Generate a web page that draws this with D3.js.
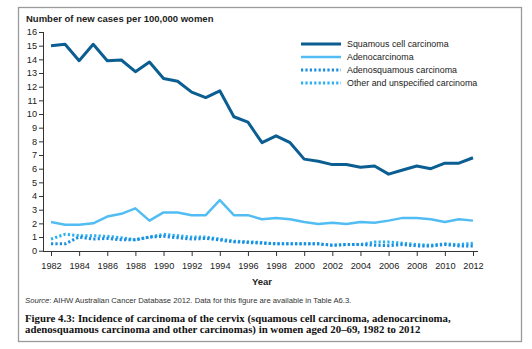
<!DOCTYPE html>
<html><head><meta charset="utf-8">
<script src="https://cdn.jsdelivr.net/npm/d3@7"></script>
<style>body{margin:0;background:#fff}svg{display:block}</style>
</head><body>
<script>
const years = d3.range(1982, 2013);
const squamous = [15.0,15.1,13.9,15.1,13.9,13.95,13.1,13.8,12.6,12.4,11.6,11.2,11.7,9.8,9.4,7.9,8.4,7.9,6.7,6.55,6.3,6.3,6.1,6.2,5.6,5.9,6.2,6.0,6.4,6.4,6.8];
const adeno = [2.1,1.9,1.9,2.0,2.5,2.7,3.1,2.2,2.8,2.8,2.6,2.6,3.7,2.6,2.6,2.3,2.4,2.3,2.1,1.95,2.05,1.95,2.1,2.05,2.2,2.4,2.4,2.3,2.1,2.3,2.2];
const adenosquamous = [0.5,0.5,1.0,0.85,0.9,0.8,0.8,1.0,1.05,0.95,0.85,0.9,0.78,0.65,0.6,0.55,0.5,0.5,0.5,0.5,0.4,0.45,0.45,0.4,0.37,0.45,0.35,0.35,0.45,0.35,0.35];
const other = [0.85,1.2,1.1,1.1,1.05,0.95,0.8,1.0,1.2,1.1,1.0,1.0,0.85,0.7,0.65,0.6,0.5,0.5,0.5,0.5,0.4,0.45,0.45,0.63,0.63,0.55,0.45,0.4,0.5,0.45,0.55];
const seriesNames = ["Squamous cell carcinoma","Adenocarcinoma","Adenosquamous carcinoma","Other and unspecified carcinoma"];
const yTicks = d3.range(0, 17);
const xTicks = d3.range(1982, 2013, 2);

const series = [
  {name: seriesNames[0], values: squamous, color: "#0b5e92", width: 3, dash: null},
  {name: seriesNames[1], values: adeno, color: "#52bdf3", width: 2.5, dash: null},
  {name: seriesNames[2], values: adenosquamous, color: "#1a8ee0", width: 3, dash: "2.2,2.2"},
  {name: seriesNames[3], values: other, color: "#2ab0f2", width: 3, dash: "2.2,2.2"}
];

const W = 532, H = 349;
const svg = d3.select("body").append("svg").attr("width", W).attr("height", H);
svg.append("rect").attr("x", 18.5).attr("y", 7.5).attr("width", 503).attr("height", 334)
  .attr("fill", "#fff").attr("stroke", "#9a9a9a").attr("stroke-width", 1.3);

const x = d3.scaleLinear().domain([1982, 2012]).range([51, 473]);
const y = d3.scaleLinear().domain([0, 16]).range([250.7, 32]);
const font = "Liberation Sans, Arial, sans-serif";

const yAxis = svg.append("g").attr("transform", "translate(43,0)")
  .call(d3.axisLeft(y).tickValues(yTicks).tickSize(4).tickPadding(2).tickSizeOuter(0));
const xAxis = svg.append("g").attr("transform", "translate(0,251)")
  .call(d3.axisBottom(x).tickValues(xTicks).tickFormat(d3.format("d")).tickSize(5).tickPadding(6).tickSizeOuter(0));
[yAxis, xAxis].forEach(g => {
  g.selectAll("path, line").attr("stroke", "#333").attr("stroke-width", 1);
  g.selectAll("text").attr("font-family", font).attr("font-size", 9.2).attr("fill", "#222");
});
xAxis.select(".domain").attr("d", `M43,0.5H${x(2012)+5}`);
yAxis.select(".domain").attr("d", `M0.5,${y(16)}V${y(0)+0.5}`);

const line = d3.line().x((d, i) => x(years[i])).y(d => y(d)).curve(d3.curveLinear);
series.slice().reverse().forEach(s => {
  svg.append("path").attr("d", line(s.values)).attr("fill", "none")
    .attr("stroke", s.color).attr("stroke-width", s.width)
    .attr("stroke-dasharray", s.dash).attr("stroke-linejoin", "round");
});

// legend
const lg = svg.append("g").attr("transform", "translate(301,44)");
series.forEach((s, i) => {
  const gy = i * 13;
  lg.append("line").attr("x1", 0).attr("x2", 40).attr("y1", gy).attr("y2", gy)
    .attr("stroke", s.color).attr("stroke-width", s.width).attr("stroke-dasharray", s.dash);
  lg.append("text").attr("x", 46).attr("y", gy).attr("dy", "0.35em").text(s.name)
    .attr("font-family", font).attr("font-size", 8.9).attr("fill", "#222");
});

svg.append("text").attr("x", 26).attr("y", 22).text("Number of new cases per 100,000 women")
  .attr("font-family", font).attr("font-size", 9.5).attr("font-weight", "bold").attr("fill", "#222");
svg.append("text").attr("x", x(1997)).attr("y", 285).attr("text-anchor", "middle").text("Year")
  .attr("font-family", font).attr("font-size", 9.5).attr("font-weight", "bold").attr("fill", "#222");

const src = svg.append("text").attr("x", 25).attr("y", 302.5)
  .attr("font-family", font).attr("font-size", 7.7).attr("fill", "#333");
src.append("tspan").attr("font-style", "italic").text("Source");
src.append("tspan").text(": AIHW Australian Cancer Database 2012. Data for this figure are available in Table A6.3.");

const serif = "Liberation Serif, Times New Roman, serif";
svg.append("text").attr("x", 25).attr("y", 321.5)
  .text("Figure 4.3: Incidence of carcinoma of the cervix (squamous cell carcinoma, adenocarcinoma,")
  .attr("font-family", serif).attr("font-size", 10.8).attr("font-weight", "bold").attr("fill", "#111");
svg.append("text").attr("x", 25).attr("y", 333)
  .text("adenosquamous carcinoma and other carcinomas) in women aged 20–69, 1982 to 2012")
  .attr("font-family", serif).attr("font-size", 10.8).attr("font-weight", "bold").attr("fill", "#111");
</script>
</body></html>
